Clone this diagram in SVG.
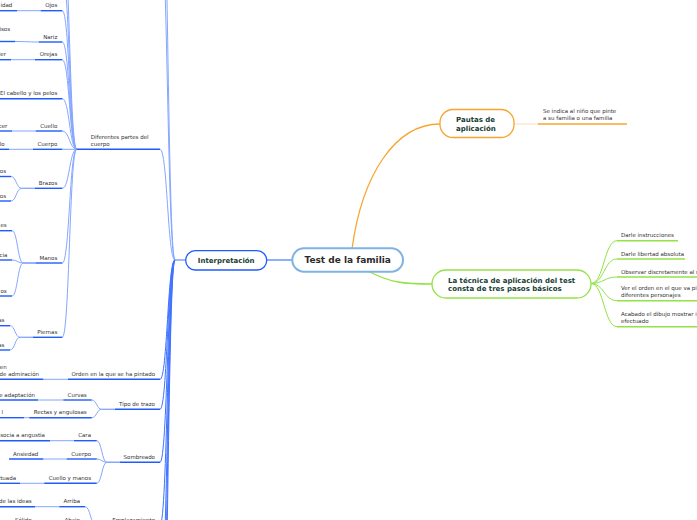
<svg xmlns="http://www.w3.org/2000/svg" width="697" height="520" viewBox="0 0 697 520">
<style>
.t{font-family:"DejaVu Sans",Verdana,sans-serif;font-size:5.5px;fill:#333333}
.e{text-anchor:end}
.nb{font-family:"DejaVu Sans",Verdana,sans-serif;font-weight:bold;font-size:7px;fill:#163d32}
.u{stroke:#1f5cff;stroke-width:1.4;fill:none}
.c{stroke:#85a6ff;stroke-width:1;fill:none}
.cd{stroke:#3f72ff;stroke-width:1;fill:none}
.go{stroke:#f7a531;fill:none}
.gg{stroke:#93e246;fill:none}
</style>
<rect width="697" height="520" fill="#ffffff"/>
<g id="connectors">
<path d="M266.7 260 H292.3" stroke="#1f5cff" stroke-width="1" fill="none"/>
<path class="go" stroke-width="1.3" d="M352 249 C362 175 395 124 440 124"/>
<path class="gg" stroke-width="1.3" d="M368 271 C390 283 405 284 432 284"/>
<path d="M514 124 H538" stroke="#fde3bd" stroke-width="1.2" fill="none"/>
<path class="gg" stroke-width="1" d="M591 283.5 C604 283.5 604 240.7 617 240.7"/>
<path class="gg" stroke-width="1" d="M591 283.5 C604 283.5 604 259 617 259"/>
<path class="gg" stroke-width="1" d="M591 283.5 C604 283.5 604 277 617 277"/>
<path class="gg" stroke-width="1" d="M591 283.5 C604 283.5 604 300.7 617 300.7"/>
<path class="gg" stroke-width="1" d="M591 283.5 C604 283.5 604 326.7 617 326.7"/>
<path class="cd" d="M185.7 260 H175"/>
<path class="c" d="M175 260 C167.5 260 167.5 -200 160 -200"/>
<path class="c" d="M175 260 C167.5 260 167.5 -80 160 -80"/>
<path class="c" d="M175 260 C167.5 260 167.5 149.3 160 149.3"/>
<path class="cd" d="M175 260 C167.5 260 167.5 379.3 160 379.3"/>
<path class="cd" d="M175 260 C167.5 260 167.5 409.3 160 409.3"/>
<path class="cd" d="M175 260 C167.5 260 167.5 462.3 160 462.3"/>
<path class="cd" d="M175 260 C167.5 260 167.5 525 160 525"/>
<path class="cd" d="M175 260 C167.5 260 167.5 600 160 600"/>
<path class="cd" d="M175 260 C167.5 260 167.5 680 160 680"/>
<path class="cd" d="M175 260 C167.5 260 167.5 760 160 760"/>
<path class="c" d="M76.7 149.3 C69.5 149.3 69.5 -70 62.3 -70"/>
<path class="c" d="M76.7 149.3 C69.5 149.3 69.5 -25 62.3 -25"/>
<path class="c" d="M76.7 149.3 C69.5 149.3 69.5 10.7 62.3 10.7"/>
<path class="c" d="M76.7 149.3 C69.5 149.3 69.5 42 62.3 42"/>
<path class="c" d="M76.7 149.3 C69.5 149.3 69.5 59.7 62.3 59.7"/>
<path class="c" d="M76.7 149.3 C69.5 149.3 69.5 98.7 62.3 98.7"/>
<path class="c" d="M76.7 149.3 C69.5 149.3 69.5 131 62.3 131"/>
<path class="c" d="M76.7 149.3 H62.3"/>
<path class="c" d="M76.7 149.3 C69.5 149.3 69.5 188.3 62.3 188.3"/>
<path class="c" d="M76.7 149.3 C69.5 149.3 69.5 263 62.3 263"/>
<path class="c" d="M76.7 149.3 C69.5 149.3 69.5 337.3 62.3 337.3"/>
<path class="c" d="M40.7 10.7 H17"/>
<path class="c" d="M38.7 42 C27 42 27 41.5 15 41.5"/>
<path class="c" d="M35 59.7 H11"/>
<path class="c" d="M35.7 131 H12"/>
<path class="c" d="M33 149.3 H9"/>
<path class="c" d="M35 188.3 H21.7 C16.3 188.3 16.3 176.5 11 176.5"/>
<path class="c" d="M35 188.3 H21.7 C16.3 188.3 16.3 201 11 201"/>
<path class="c" d="M35.7 263 H23.3 C17.6 263 17.6 230.7 12 230.7"/>
<path class="c" d="M35.7 263 H23.3 C17.6 263 17.6 260 12 260"/>
<path class="c" d="M35.7 263 H23.3 C17.6 263 17.6 296 12 296"/>
<path class="c" d="M33 337.3 H20 C15 337.3 15 325.7 10 325.7"/>
<path class="c" d="M33 337.3 H20 C15 337.3 15 350 10 350"/>
<path class="c" d="M68 379.3 H43.3"/>
<path class="c" d="M115 409.3 H101.7 C96.7 409.3 96.7 400 91.7 400"/>
<path class="c" d="M115 409.3 H101.7 C96.7 409.3 96.7 417.7 91.7 417.7"/>
<path class="c" d="M63.3 400 H38"/>
<path class="c" d="M29.3 417.7 H24"/>
<path class="c" d="M120 462.3 H107 C101.8 462.3 101.8 440.7 96.7 440.7"/>
<path class="c" d="M120 462.3 H107 C101.8 462.3 101.8 459 96.7 459"/>
<path class="c" d="M120 462.3 H107 C101.8 462.3 101.8 483.3 96.7 483.3"/>
<path class="c" d="M74 440.7 H50"/>
<path class="c" d="M66.7 459 H43.3"/>
<path class="c" d="M44.3 483.3 H20"/>
<path class="c" d="M108 525 H96 C90.5 525 90.5 506.7 85 506.7"/>
<path class="c" d="M108 525 H96 C90.5 525 90.5 526 85 526"/>
<path class="c" d="M59.3 506.7 H35"/>
<path class="c" d="M60 526 H36"/>
</g>

<g id="root">
<rect x="292.3" y="248.3" width="110.7" height="23.4" rx="11.7" fill="#fff" stroke="#7fb3e3" stroke-width="2"/>
<text x="347.7" y="263.3" text-anchor="middle" style="font-family:'DejaVu Sans',Verdana,sans-serif;font-weight:bold;font-size:9px;fill:#2b2b2b">Test de la familia</text>
</g>

<g id="interpretacion">
<rect x="185.7" y="250.7" width="81" height="19.3" rx="9.6" fill="#fff" stroke="#1f5cff" stroke-width="1.3"/>
<text class="nb" x="226.2" y="262.8" text-anchor="middle">Interpretación</text>
</g>

<g id="pautas">
<rect x="440" y="109.5" width="74" height="28" rx="13" fill="#fff" stroke="#f7a531" stroke-width="1.3"/>
<text class="nb" x="456" y="121.8">Pautas de</text>
<text class="nb" x="456" y="130.8">aplicación</text>
</g>
<g id="pautas-1">
<path d="M538 124 H627" stroke="#f7a531" stroke-width="1.5" fill="none"/>
<text class="t" x="543" y="113.2">Se indica al niño que pinte</text>
<text class="t" x="543" y="120.2">a su familia o una familia</text>
</g>

<g id="tecnica">
<rect x="432" y="270" width="159" height="28" rx="14" fill="#fff" stroke="#93e246" stroke-width="1.3"/>
<text class="nb" x="448" y="282.6">La técnica de aplicación del test</text>
<text class="nb" x="448" y="291.4">consta de tres pasos básicos</text>
</g>
<g id="tecnica-1"><path d="M617 240.7 H678" stroke="#93e246" stroke-width="1.5"/><text class="t" x="621" y="237.2">Darle instrucciones</text></g>
<g id="tecnica-2"><path d="M617 259 H685" stroke="#93e246" stroke-width="1.5"/><text class="t" x="621" y="255.5">Darle libertad absoluta</text></g>
<g id="tecnica-3"><path d="M617 277 H697" stroke="#93e246" stroke-width="1.5"/><text class="t" x="621" y="273.5">Observar discretamente al n</text></g>
<g id="tecnica-4"><path d="M617 300.7 H697" stroke="#93e246" stroke-width="1.5"/><text class="t" x="621" y="290.2">Ver el orden en el que va pi</text><text class="t" x="621" y="297.2">diferentes personajes</text></g>
<g id="tecnica-5"><path d="M617 326.7 H697" stroke="#93e246" stroke-width="1.5"/><text class="t" x="621" y="316.2">Acabado el dibujo mostrar i</text><text class="t" x="621" y="323.2">efectuado</text></g>

<g id="diferentes"><path class="u" d="M76.7 149.3 H160"/><text class="t" x="90.7" y="139.3">Diferentes partes del</text><text class="t" x="90.7" y="146.3">cuerpo</text></g>
<g id="ojos"><path class="u" d="M40.7 10.7 H62.3"/><text class="t e" x="57.3" y="7.2">Ojos</text></g>
<g id="ojos-1"><path class="u" d="M0 10.7 H17"/><text class="t e" x="12.3" y="7.2">idad</text></g>
<g id="nariz"><path class="u" d="M38.7 42 H62.3"/><text class="t e" x="57.3" y="38.5">Nariz</text></g>
<g id="nariz-1"><path class="u" d="M0 41.5 H15"/><text class="t e" x="10" y="31.3">isos</text></g>
<g id="orejas"><path class="u" d="M35 59.7 H62.3"/><text class="t e" x="57.3" y="56.2">Orejas</text></g>
<g id="orejas-1"><path class="u" d="M0 59.7 H11"/><text class="t e" x="6" y="56.2">ler</text></g>
<g id="cabello"><path class="u" d="M-4 98.7 H62.3"/><text class="t e" x="57.3" y="95.2">El cabello y los pelos</text></g>
<g id="cuello"><path class="u" d="M35.7 131 H62.3"/><text class="t e" x="57.3" y="127.5">Cuello</text></g>
<g id="cuello-1"><path class="u" d="M0 131 H12"/><text class="t e" x="7.3" y="127.5">cer</text></g>
<g id="cuerpo"><path class="u" d="M33 149.3 H62.3"/><text class="t e" x="57.3" y="145.8">Cuerpo</text></g>
<g id="cuerpo-1"><path class="u" d="M0 149.3 H9"/><text class="t e" x="4.7" y="145.8">lo</text></g>
<g id="brazos"><path class="u" d="M35 188.3 H62.3"/><text class="t e" x="57.3" y="184.8">Brazos</text></g>
<g id="brazos-1"><path class="u" d="M0 176.5 H11"/><text class="t e" x="6" y="173">os</text></g>
<g id="brazos-2"><path class="u" d="M0 201 H11"/><text class="t e" x="6" y="197.5">os</text></g>
<g id="manos"><path class="u" d="M35.7 263 H62.3"/><text class="t e" x="57.3" y="259.5">Manos</text></g>
<g id="manos-1"><path class="u" d="M0 230.7 H12"/><text class="t e" x="6.7" y="227.2">es</text></g>
<g id="manos-2"><path class="u" d="M0 260 H12"/><text class="t e" x="7.3" y="256.5">cia</text></g>
<g id="manos-3"><path class="u" d="M0 296 H12"/><text class="t e" x="6.7" y="292.5">os</text></g>
<g id="piernas"><path class="u" d="M33 337.3 H62.3"/><text class="t e" x="57.3" y="333.8">Piernas</text></g>
<g id="piernas-1"><path class="u" d="M0 325.7 H10"/><text class="t e" x="4.5" y="322.2">as</text></g>
<g id="piernas-2"><path class="u" d="M0 350 H10"/><text class="t e" x="4.5" y="346.5">as</text></g>

<g id="orden"><path class="u" d="M68 379.3 H160"/><text class="t e" x="155" y="375.8">Orden en la que se ha pintado</text></g>
<g id="orden-1"><path class="u" d="M0 379.3 H43.3"/><text class="t e" x="6.7" y="368.8">en</text><text class="t e" x="39" y="375.8">de admiración</text></g>

<g id="trazo"><path class="u" d="M115 409.3 H160"/><text class="t e" x="155" y="405.8">Tipo de trazo</text></g>
<g id="curvas"><path class="u" d="M63.3 400 H91.7"/><text class="t e" x="86.7" y="396.5">Curvas</text></g>
<g id="curvas-1"><path class="u" d="M0 400 H38"/><text class="t e" x="35" y="396.5">e adaptación</text></g>
<g id="rectas"><path class="u" d="M29.3 417.7 H91.7"/><text class="t e" x="86.7" y="414.2">Rectas y angulosas</text></g>
<g id="rectas-1"><path class="u" d="M0 417.7 H24"/><text class="t e" x="3" y="414.2">l</text></g>

<g id="sombreado"><path class="u" d="M120 462.3 H160"/><text class="t e" x="155" y="458.8">Sombreado</text></g>
<g id="cara"><path class="u" d="M74 440.7 H96.7"/><text class="t e" x="91" y="437.2">Cara</text></g>
<g id="cara-1"><path class="u" d="M0 440.7 H50"/><text class="t e" x="45" y="437.2">asocia a angustia</text></g>
<g id="cuerpo2"><path class="u" d="M66.7 459 H96.7"/><text class="t e" x="91" y="455.5">Cuerpo</text></g>
<g id="cuerpo2-1"><path class="u" d="M9 459 H43.3"/><text class="t e" x="38.3" y="455.5">Ansiedad</text></g>
<g id="cuellomanos"><path class="u" d="M44.3 483.3 H96.7"/><text class="t e" x="91" y="479.8">Cuello y manos</text></g>
<g id="cuellomanos-1"><path class="u" d="M0 483.3 H20"/><text class="t e" x="16" y="479.8">tuada</text></g>

<g id="emplazamiento"><path class="u" d="M108 525 H160"/><text class="t e" x="155" y="521.5">Emplazamiento</text></g>
<g id="arriba"><path class="u" d="M59.3 506.7 H85"/><text class="t e" x="80" y="503.2">Arriba</text></g>
<g id="arriba-1"><path class="u" d="M0 506.7 H35"/><text class="t e" x="31.7" y="503.2">de las ideas</text></g>
<g id="abajo"><path class="u" d="M60 526 H85"/><text class="t e" x="80" y="522">Abajo</text></g>
<g id="abajo-1"><path class="u" d="M11 526 H36"/><text class="t e" x="31.7" y="522">Sólido</text></g>
</svg>
